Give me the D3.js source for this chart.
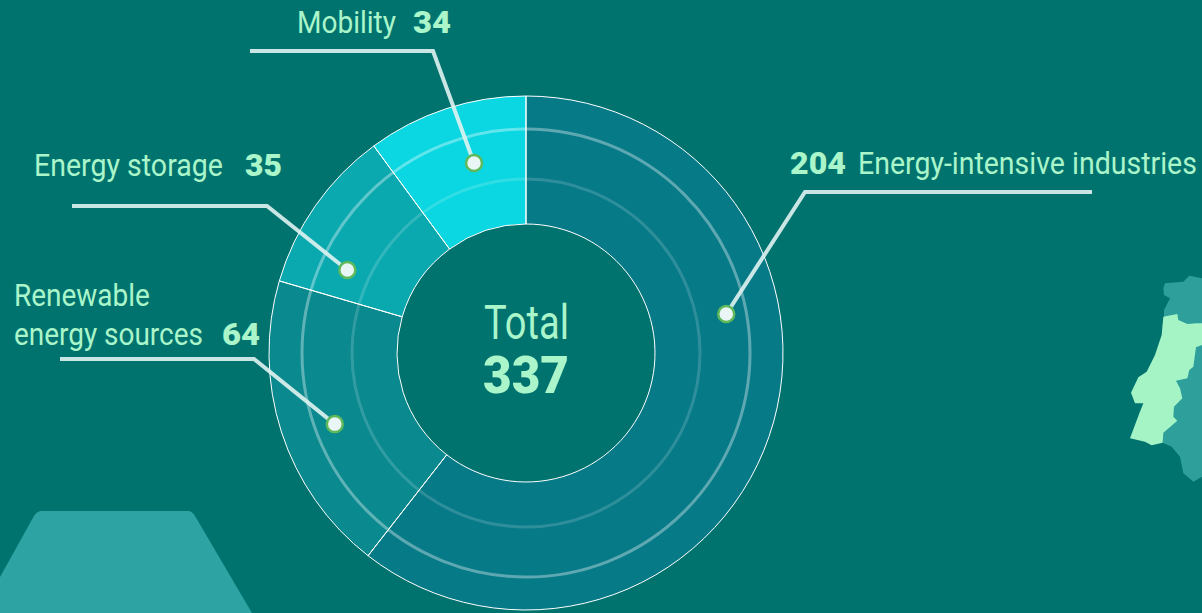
<!DOCTYPE html>
<html>
<head>
<meta charset="utf-8">
<script src="https://cdn.jsdelivr.net/npm/d3@7"></script>
<style>
  html, body { margin: 0; padding: 0; background: #00736f; overflow: hidden; }
  text { font-family: Roboto, sans-serif; fill: #aaf5c9; }
</style>
</head>
<body>
<svg id="chart" width="1202" height="613"></svg>
<script>
const categories = ['Energy-intensive industries', 'Renewable energy sources', 'Energy storage', 'Mobility'];
const values = [204, 64, 35, 34];
const sliceColors = ['#077a88', '#0a8a8f', '#0aa9af', '#0ad7e1'];
const total = 337;

// where the callout dots sit: [angle in degrees, radius]
const dotPolar = [[79, 204], [249.6, 204], [294.9, 197], [344.7, 197]];
// elbow of each leader: [far x, elbow x, y]
const leaders = [[1092, 805, 192], [60, 254, 359], [72, 267, 206], [250, 433, 51]];

// [text, x, baseline, width, bold, size]
const labels = [
  ['204', 790, 174, 56, true, 31],
  ['Energy-intensive industries', 858, 174, 339, false, 31],
  ['Renewable', 14, 306, 136, false, 31],
  ['energy sources', 14, 345, 189, false, 31],
  ['64', 222, 345, 38, true, 31],
  ['Energy storage', 34, 176, 189, false, 31],
  ['35', 245, 176, 37, true, 31],
  ['Mobility', 297, 33, 99, false, 31],
  ['34', 413, 33, 38, true, 31],
  ['Total', 484, 339, 85, false, 49],
  [String(total), 483, 393, 86, true, 51]
];

// map outlines
const iberia = [[190,85],[195,70],[250,65],[268,47],[306,55],[306,650],[280,665],[250,640],[240,590],[215,560],[188,548],[188,200],[192,168],[192,150],[210,115],[192,105]];
const portugal = [[190,170],[232,162],[235,180],[262,192],[290,190],[306,190],[306,255],[288,262],[280,320],[268,330],[262,355],[228,362],[240,385],[247,415],[222,440],[220,470],[232,482],[190,518],[188,548],[155,556],[135,545],[90,535],[118,460],[130,430],[105,430],[93,398],[115,352],[140,335],[165,285],[185,225]];

const cx = 526, cy = 353;
const outerR = 257, innerR = 129;
const ringRadii = [224, 174];
const ringOpacity = [0.35, 0.16];

const svg = d3.select('#chart');

// decoration behind the chart
svg.append('path')
  .attr('d', 'M0,577 L34,516 Q37,511 42,511 L188,511 Q192,511 195,516 L252,613 L0,613 Z')
  .attr('fill', '#2da3a3');

const mapLine = d3.line().x(d => 1100 + d[0] / 3).y(d => 260 + d[1] / 3).curve(d3.curveLinearClosed);
svg.append('path').attr('d', mapLine(iberia)).attr('fill', '#2e9f9a');
svg.append('path').attr('d', mapLine(portugal)).attr('fill', '#a4f4c6');

const g = svg.append('g').attr('transform', `translate(${cx},${cy})`);

const pie = d3.pie().sort(null).value(d => d)(values);
const arc = d3.arc().innerRadius(innerR).outerRadius(outerR);

g.selectAll('path.slice')
  .data(pie)
  .join('path')
  .attr('class', 'slice')
  .attr('d', arc)
  .attr('fill', (d, i) => sliceColors[i]);

g.selectAll('circle.ring')
  .data(ringRadii)
  .join('circle')
  .attr('class', 'ring')
  .attr('r', d => d)
  .attr('fill', 'none')
  .attr('stroke', '#fff')
  .attr('stroke-opacity', (d, i) => ringOpacity[i])
  .attr('stroke-width', 3);

// slice borders go over the rings
g.selectAll('path.edge')
  .data(pie)
  .join('path')
  .attr('class', 'edge')
  .attr('d', arc)
  .attr('fill', 'none')
  .attr('stroke', '#fff')
  .attr('stroke-width', 1);

const dots = dotPolar.map(d => {
  const p = d3.pointRadial(d[0] * Math.PI / 180, d[1]);
  return [cx + p[0], cy + p[1]];
});

svg.selectAll('path.leader')
  .data(leaders)
  .join('path')
  .attr('class', 'leader')
  .attr('d', (d, i) => d3.line()([[d[0], d[2]], [d[1], d[2]], dots[i]]))
  .attr('fill', 'none')
  .attr('stroke', '#dff3f1')
  .attr('stroke-opacity', 0.9)
  .attr('stroke-width', 4);

svg.selectAll('circle.dot')
  .data(dots)
  .join('circle')
  .attr('class', 'dot')
  .attr('cx', d => d[0])
  .attr('cy', d => d[1])
  .attr('r', 8)
  .attr('fill', '#eaf6f6')
  .attr('stroke', '#5fb95a')
  .attr('stroke-width', 2.5);

// the original face is narrow, so squeeze each text to its measured width
svg.selectAll('text.label')
  .data(labels)
  .join('text')
  .attr('class', 'label')
  .attr('font-size', d => d[5])
  .attr('font-weight', d => d[4] ? 900 : 400)
  .text(d => d[0])
  .attr('transform', function (d) {
    return `translate(${d[1]},${d[2]}) scale(${d[3] / this.getComputedTextLength()},1)`;
  });
</script>
</body>
</html>
